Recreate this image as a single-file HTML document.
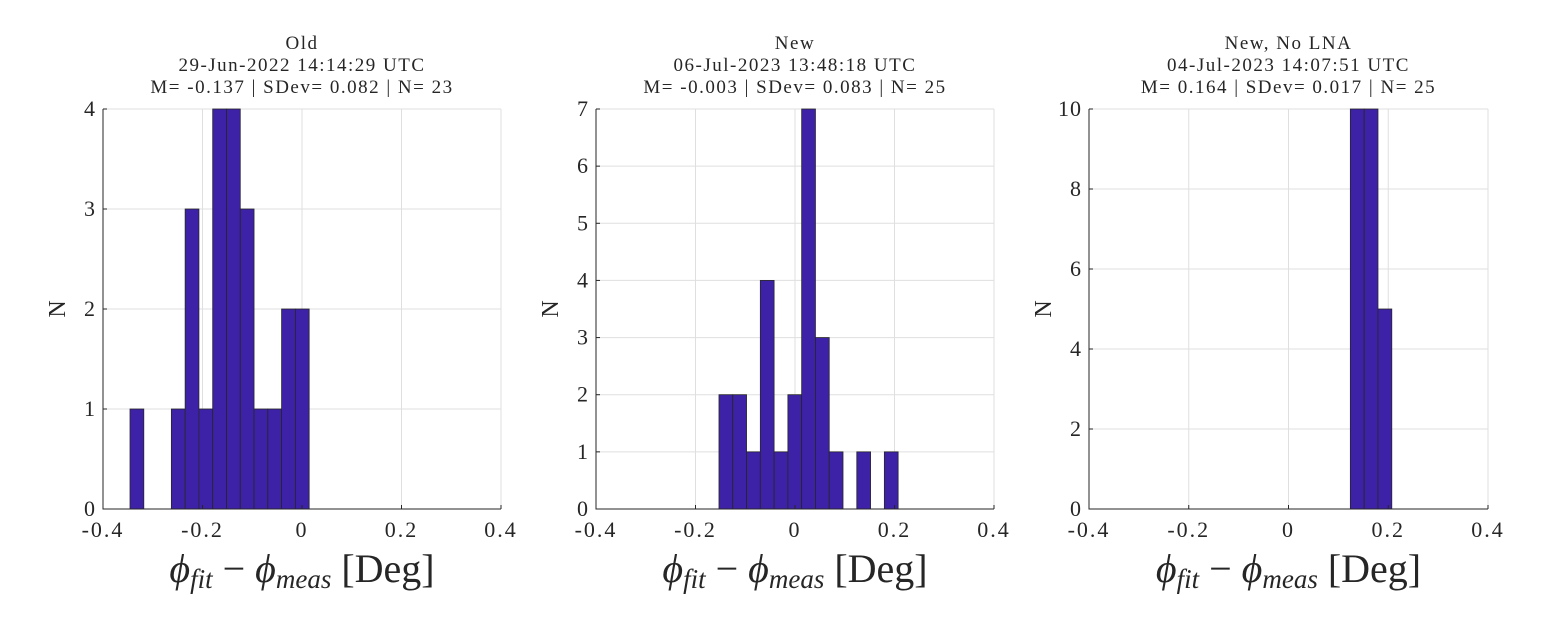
<!DOCTYPE html>
<html><head><meta charset="utf-8"><style>
body{margin:0;background:#fff;}
svg text{font-family:"Liberation Serif",serif;fill:#262626;}
</style></head><body>
<svg id="fig" width="1563" height="625" xmlns="http://www.w3.org/2000/svg"></svg>
<script>
const titles1 = ["Old","29-Jun-2022 14:14:29 UTC","M= -0.137 | SDev= 0.082 | N= 23"];
const titles2 = ["New","06-Jul-2023 13:48:18 UTC","M= -0.003 | SDev= 0.083 | N= 25"];
const titles3 = ["New, No LNA","04-Jul-2023 14:07:51 UTC","M= 0.164 | SDev= 0.017 | N= 25"];
const binStart1 = -0.3457, binStart2 = -0.1528, binStart3 = 0.124;
const binWidth = 0.0277;
const counts1 = [1,0,0,1,3,1,4,4,3,1,1,2,2];
const counts2 = [2,2,1,4,1,2,7,3,1,0,1,0,1];
const counts3 = [10,10,5];
const yTicks1 = [0,1,2,3,4];
const yTicks2 = [0,1,2,3,4,5,6,7];
const yTicks3 = [0,2,4,6,8,10];
const xTicks = [-0.4,-0.2,0,0.2,0.4];
const xTickLabels = ["-0.4","-0.2","0","0.2","0.4"];

const svg = document.getElementById('fig');
const NS = "http://www.w3.org/2000/svg";
function mk(tag, attrs, parent){const e=document.createElementNS(NS,tag);for(const k in attrs)e.setAttribute(k,attrs[k]);(parent||svg).appendChild(e);return e;}

const panels = [
 {x0:103,x1:501,titles:titles1,start:binStart1,counts:counts1,yt:yTicks1,name:'old'},
 {x0:596,x1:994,titles:titles2,start:binStart2,counts:counts2,yt:yTicks2,name:'new'},
 {x0:1089,x1:1488,titles:titles3,start:binStart3,counts:counts3,yt:yTicks3,name:'new-no-lna'}
];
const yTop=109, yBot=509;
panels.forEach(p=>{
  const g = mk('g',{});
  
  
  const ymax = p.yt[p.yt.length-1];
  const X = v => p.x0 + (v+0.4)/0.8*(p.x1-p.x0);
  const Y = v => yBot - v/ymax*(yBot-yTop);
  xTicks.forEach(t=>{ if(t>-0.4){ const l=mk('line',{x1:X(t),x2:X(t),y1:yTop,y2:yBot,stroke:'#dfdfdf','stroke-width':1},g);
     }});
  p.yt.forEach(t=>{ if(t>0){ const l=mk('line',{x1:p.x0,x2:p.x1,y1:Y(t),y2:Y(t),stroke:'#dfdfdf','stroke-width':1},g);
     }});
  p.counts.forEach((c,i)=>{
    if(c<=0) return;
    const a=p.start+i*binWidth, b=a+binWidth;
    const r=mk('rect',{x:X(a),y:Y(c),width:X(b)-X(a),height:Y(0)-Y(c),fill:'#3d22a8',stroke:'#262626','stroke-width':0.8},g);
    
    
  });
  const ax=mk('path',{d:`M${p.x0},${yTop}V${yBot}H${p.x1}`,fill:'none',stroke:'#262626','stroke-width':1},g);
   
  xTicks.forEach((t,i)=>{
    mk('line',{x1:X(t),x2:X(t),y1:yBot,y2:yBot-4,stroke:'#262626'},g);
    const tx=mk('text',{x:X(t),y:yBot+28,'text-anchor':'middle','font-size':22,'letter-spacing':2},g);
    tx.textContent=xTickLabels[i];
     
  });
  p.yt.forEach(t=>{
    mk('line',{x1:p.x0,x2:p.x0+4,y1:Y(t),y2:Y(t),stroke:'#262626'},g);
    const tx=mk('text',{x:p.x0-7,y:Y(t)+7,'text-anchor':'end','font-size':22,'letter-spacing':1},g);
    tx.textContent=String(t);
     
  });
  const cx=(p.x0+p.x1)/2;
  p.titles.forEach((s,i)=>{
    const tx=mk('text',{x:cx,y:49+i*22,'text-anchor':'middle','font-size':19,'letter-spacing':1.5},g);
    tx.textContent=s;
     
  });
  const yl=mk('text',{x:0,y:0,'text-anchor':'middle','font-size':24,transform:`translate(${p.x0-38},${(yTop+yBot)/2}) rotate(-90)`},g);
  yl.textContent='N';
   
  const xl=mk('text',{x:cx,y:582,'text-anchor':'middle','font-size':40},g);
  xl.innerHTML='<tspan font-style="italic">ϕ</tspan><tspan font-size="27" dy="6" font-style="italic">fit</tspan><tspan dy="-6"> − </tspan><tspan font-style="italic">ϕ</tspan><tspan font-size="27" dy="6" font-style="italic">meas</tspan><tspan dy="-6"> [Deg]</tspan>';
   
});
</script>
</body></html>
